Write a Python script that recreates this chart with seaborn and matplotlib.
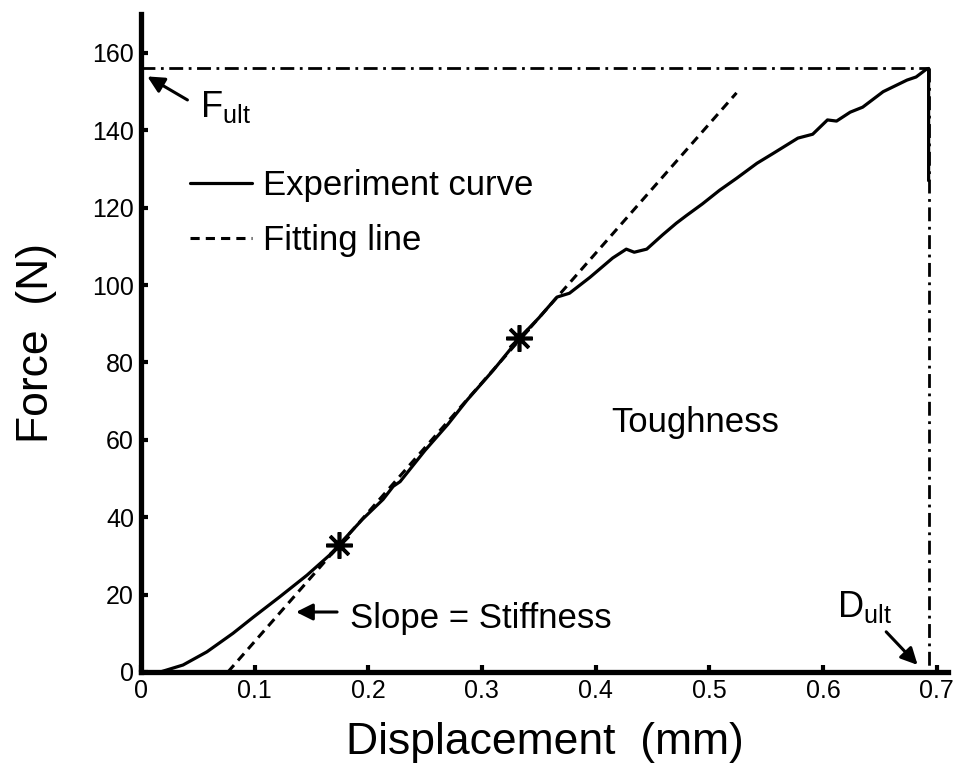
import matplotlib
matplotlib.use("Agg")
import matplotlib.pyplot as plt
import seaborn as sns
from matplotlib.lines import Line2D

# data
disp = [0.0, 0.017, 0.037, 0.058, 0.081, 0.099, 0.122, 0.146, 0.169, 0.174, 0.195, 0.213,
        0.222, 0.228, 0.25, 0.27, 0.287, 0.31, 0.333, 0.35, 0.366, 0.377, 0.395, 0.415,
        0.427, 0.434, 0.445, 0.459, 0.471, 0.480, 0.494, 0.509, 0.524, 0.542, 0.556,
        0.578, 0.591, 0.604, 0.612, 0.624, 0.635, 0.653, 0.674, 0.682, 0.691, 0.693, 0.693]
force = [0.0, 0.0, 1.8, 5.2, 10.0, 14.2, 19.4, 25.0, 31.0, 32.8, 39.5, 44.6,
         48.0, 49.2, 57.3, 64.0, 70.3, 78.0, 86.3, 91.5, 96.9, 97.9, 102.0, 107.0,
         109.3, 108.5, 109.3, 113.0, 116.0, 118.0, 121.0, 124.5, 127.6, 131.5, 134.0,
         138.0, 139.0, 142.7, 142.4, 144.7, 146.0, 150.0, 153.0, 153.8, 155.8, 156.0, 127.0]

fit_disp = [0.0765, 0.524]
fit_force = [0.0, 149.7]

star_disp = [0.174, 0.333]
star_force = [32.8, 86.3]

f_ult = 156.0
d_ult = 0.693

xticks = [0, 0.1, 0.2, 0.3, 0.4, 0.5, 0.6, 0.7]
xticklabels = ["0", "0.1", "0.2", "0.3", "0.4", "0.5", "0.6", "0.7"]
yticks = [0, 20, 40, 60, 80, 100, 120, 140, 160]

sns.set_style("ticks")
plt.rcParams['font.family'] = ['Liberation Sans', 'DejaVu Sans']
plt.rcParams['mathtext.fontset'] = 'custom'
plt.rcParams['mathtext.rm'] = 'Liberation Sans'
for k in ['text.color', 'axes.labelcolor', 'xtick.color', 'ytick.color', 'axes.edgecolor']:
    plt.rcParams[k] = 'black'

fig = plt.figure(figsize=(9.55, 7.82), dpi=100)
ax = fig.add_axes([0.1476, 0.1407, 0.845, 0.841])

# reference lines for ultimate force / displacement
dashdot = (5, 2, 1, 2)
ax.plot([0, d_ult], [f_ult, f_ult], color='black', lw=2, dashes=dashdot)
ax.plot([d_ult, d_ult], [f_ult, 0], color='black', lw=2, dashes=dashdot)

sns.lineplot(x=disp, y=force, sort=False, estimator=None, color='black', lw=2.3, ax=ax)
sns.lineplot(x=fit_disp, y=fit_force, sort=False, estimator=None, color='black', lw=2.2,
             ax=ax).lines[-1].set_dashes((3, 2))
ax.plot(star_disp, star_force, linestyle='none', marker=(8, 2, 0), markersize=19,
        markeredgewidth=2.6, color='black')

ax.set_xlim(0, 0.71)
ax.set_ylim(0, 170)
ax.set_xticks(xticks)
ax.set_xticklabels(xticklabels)
ax.set_yticks(yticks)
ax.tick_params(direction='in', length=5, width=3, labelsize=18, pad=5)
sns.despine(ax=ax)
for s in ['left', 'bottom']:
    ax.spines[s].set_linewidth(3.8)
    ax.spines[s].set_zorder(5)

ax.set_xlabel("Displacement  (mm)", fontsize=32)
ax.set_ylabel("Force  (N)", fontsize=32)
ax.xaxis.set_label_coords(0.5, -0.076)
ax.yaxis.set_label_coords(-0.104, 0.5)

# legend
handles = [Line2D([], [], color='black', lw=2.3),
           Line2D([], [], color='black', lw=2.2, dashes=(3, 2))]
ax.legend(handles, ["Experiment curve", "Fitting line"], loc='upper left',
          bbox_to_anchor=(0.0607, 0.765), frameon=False, fontsize=25,
          handlelength=1.8, handletextpad=0.3, labelspacing=0.63,
          borderpad=0, borderaxespad=0)

# annotations
arrow = dict(arrowstyle='-|>', color='black', lw=2.2, mutation_scale=25)
ax.annotate("", xy=(0.0035, 154.3), xytext=(0.043, 147.5), arrowprops=arrow)
ax.text(0.052, 143.4, r"$\mathrm{F_{ult}}$", fontsize=26, va='baseline')
ax.annotate("", xy=(0.685, 1.3), xytext=(0.654, 10.9), arrowprops=arrow)
ax.text(0.612, 14.2, r"$\mathrm{D_{ult}}$", fontsize=26, va='baseline')
ax.annotate("", xy=(0.134, 15.5), xytext=(0.175, 15.5), arrowprops=arrow)
ax.text(0.184, 11.4, "Slope = Stiffness", fontsize=25, va='baseline')
ax.text(0.414, 62, "Toughness", fontsize=25, va='baseline')

fig.savefig("out.png", dpi=100)
